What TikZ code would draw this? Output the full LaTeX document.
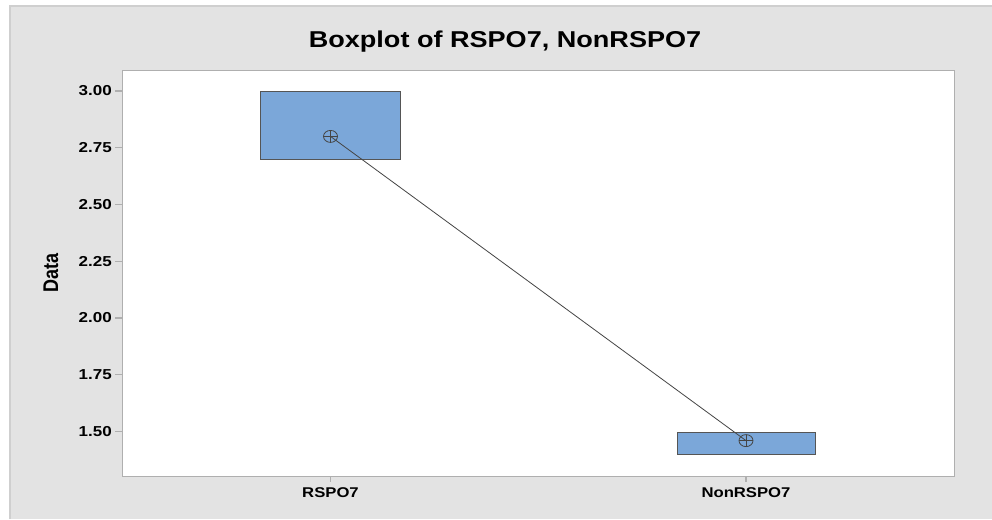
\documentclass[tikz,border=0pt]{standalone}
\usepackage{fontspec}
\setmainfont{Liberation Sans}
\usetikzlibrary{shapes.geometric}
\definecolor{panelgray}{HTML}{E3E3E3}
\definecolor{panelline}{HTML}{CFCFCF}
\definecolor{axisgray}{HTML}{AFAFAF}
\definecolor{boxfill}{HTML}{7BA7D9}
\definecolor{boxline}{HTML}{555555}
\definecolor{meanline}{HTML}{454545}
\newcommand{\hs}[1]{\scalebox{1.18}[1]{#1}}
\tikzset{
  databox/.style={draw=boxline, line width=0.9pt, fill=boxfill, inner sep=0pt},
  meanmark/.style={ellipse, draw=meanline, line width=0.6pt, minimum width=10.5pt, minimum height=9pt, inner sep=0pt,
    path picture={\draw[meanline, line width=0.6pt] (path picture bounding box.north) -- (path picture bounding box.south)
      (path picture bounding box.west) -- (path picture bounding box.east);}},
  ticklabel/.style={font=\fontsize{10.8}{12}\selectfont\bfseries, anchor=east, inner sep=0pt},
  xlabel/.style={font=\fontsize{10.6}{12}\selectfont\bfseries, inner sep=0pt},
  tickline/.style={draw=axisgray, line width=0.8pt}
}
\begin{document}
\begin{tikzpicture}[x=0.75pt, y=-0.75pt]
\useasboundingbox (0,0) rectangle (992,519);
\fill[white] (0,0) rectangle (992,519);
% panel
\fill[panelgray] (10,6) rectangle (992,519);
\draw[panelline, line width=0.8pt] (10,519) -- (10,6) -- (992,6);
% plot area
\node[draw=axisgray, line width=1pt, fill=white, anchor=north west, minimum width=624pt, minimum height=304.5pt, inner sep=0pt] (plot) at (122,70) {};
% title
\node[font=\fontsize{17.2}{20}\selectfont\bfseries, inner sep=0pt] (title) at (505,42) {\hs{Boxplot of RSPO7, NonRSPO7}};
% y label
\node[font=\fontsize{13.5}{16}\selectfont\bfseries, rotate=90, inner sep=0pt] (ylab) at (51,273) {\scalebox{1}[1.18]{Data}};
% y ticks
\foreach \v/\lab [count=\i] in {3/3.00, 2.75/2.75, 2.5/2.50, 2.25/2.25, 2/2.00, 1.75/1.75, 1.5/1.50} {
  \pgfmathsetmacro{\yy}{91+(3-\v)*227}
  \coordinate (yt\i) at (122,\yy);
  \coordinate (ytl\i) at (115,\yy);
  \draw[tickline] (ytl\i) -- (yt\i);
  \node[ticklabel] (ylabel\i) at (112,\yy) {\hs{\lab}};
}
% x ticks
\coordinate (xt1) at (330.5,476);
\coordinate (xt1b) at (330.5,482);
\coordinate (xt2) at (746,476);
\coordinate (xt2b) at (746,482);
\draw[tickline] (xt1) -- (xt1b);
\draw[tickline] (xt2) -- (xt2b);
\node[xlabel] (xl1) at (330.5,493) {\hs{RSPO7}};
\node[xlabel] (xl2) at (746,493) {\hs{NonRSPO7}};
% boxes
\node[databox, anchor=north west, minimum width=105pt, minimum height=51pt] (box1) at (260,91) {};
\node[databox, anchor=north west, minimum width=103.5pt, minimum height=17pt] (box2) at (677,431.5) {};
% means
\node[meanmark] (m1) at (330.5,136.4) {};
\node[meanmark] (m2) at (746,440.6) {};
\draw[meanline, line width=0.6pt] (m1.center) -- (m2.center);
\end{tikzpicture}
\end{document}
